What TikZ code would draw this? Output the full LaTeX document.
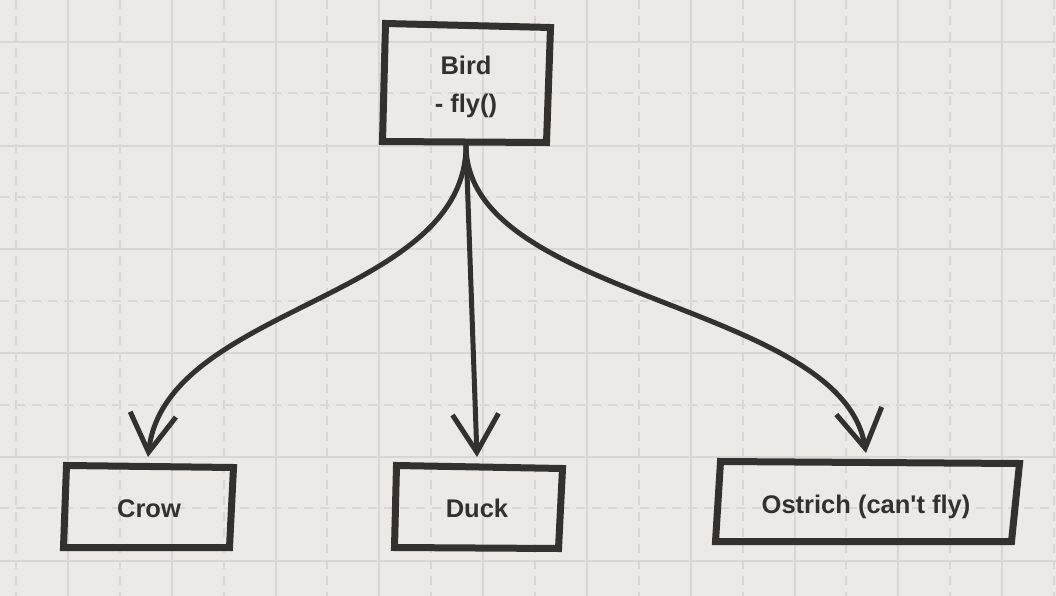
\documentclass[tikz,border=0pt]{standalone}
\usepackage{fontspec}
\setmainfont{Liberation Sans}[Ligatures=TeXOff]
\usetikzlibrary{arrows.meta}
\definecolor{bg}{RGB}{236,233,231}
\definecolor{gridc}{RGB}{218,214,213}
\definecolor{ink}{RGB}{50,49,48}
\begin{document}
\begin{tikzpicture}[x=1pt,y=-1pt,
  box/.style={draw=ink, line width=7pt, line join=miter},
  conn/.style={draw=ink, line width=5pt, -{Straight Barb[length=38pt,width=46pt]}},
  lbl/.style={font=\bfseries\fontsize{25.5}{30}\selectfont, text=ink, anchor=base, inner sep=0pt},
  gsolid/.style={draw=gridc, line width=2pt},
  gdash/.style={draw=gridc, line width=2pt, dash pattern=on 9pt off 7pt}]
\fill[bg] (0,0) rectangle (1056,596);
\useasboundingbox (0,0) rectangle (1056,596);
% grid
\foreach \i in {0,...,9} \draw[gsolid] ({68+103.8*\i},0) -- ++(0,596);
\foreach \i in {0,...,10} \draw[gdash] ({16+103.8*\i},0) -- ++(0,596);
\foreach \j in {0,...,5} \draw[gsolid] (0,{42+103.7*\j}) -- ++(1056,0);
\foreach \j in {0,...,4} \draw[gdash] (0,{93.5+103.7*\j}) -- ++(1056,0);
% boxes
\draw[box] (385.5,23.5) -- (550.5,27.5) -- (546.5,142.5) -- (382.5,141.5) -- cycle;
\draw[box] (66.5,465.5) -- (233.5,467.5) -- (229.5,547.5) -- (63.5,547.5) -- cycle;
\draw[box] (396.5,465.5) -- (562.5,468.5) -- (558.5,548.5) -- (394.5,547.5) -- cycle;
\draw[box] (720.5,461.5) -- (1019.5,463.5) -- (1011.5,541.5) -- (715.5,541.5) -- cycle;
% labels
\node[lbl] (bird) at (466,75) {Bird};
\node[lbl] (birdop) at (466,113) {- fly()};
\node[lbl] (crow) at (149,517) {Crow};
\node[lbl] (duck) at (477,517) {Duck};
\node[lbl] (ostrich) at (866,513) {Ostrich (can't fly)};
% connector ends
\coordinate (birdS) at (466,145);
\coordinate (crowN) at (148,457);
\coordinate (duckN) at (477,457);
\coordinate (ostrichN) at (866,453);
% connectors
\draw[conn] (birdS) .. controls (466,300) and (166,305) .. (crowN);
\draw[conn] (birdS) -- (duckN);
\draw[conn] (birdS) .. controls (466,300) and (841,302) .. (ostrichN);
\end{tikzpicture}
\end{document}
